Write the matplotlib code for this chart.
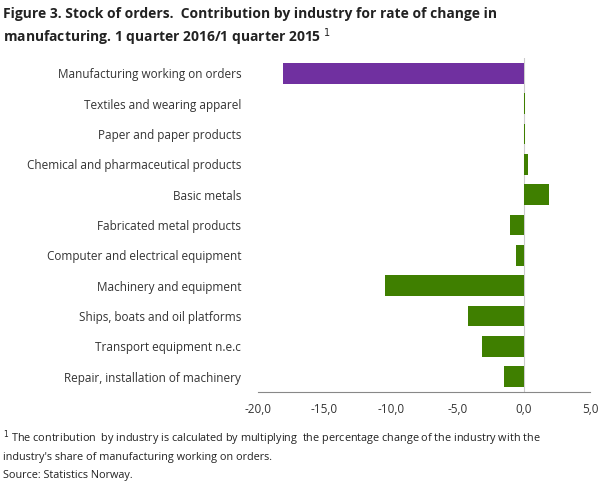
import matplotlib
matplotlib.use("Agg")
import matplotlib.pyplot as plt

categories = ["Manufacturing working on orders", "Textiles and wearing apparel", "Paper and paper products",
              "Chemical and pharmaceutical products", "Basic metals", "Fabricated metal products",
              "Computer and electrical equipment", "Machinery and equipment", "Ships, boats and oil platforms",
              "Transport equipment n.e.c", "Repair, installation of machinery"]
values = [-18.1, 0.1, 0.1, 0.3, 1.95, -1.0, -0.6, -10.4, -4.2, -3.1, -1.45]
colors = ["#7030a0"] + ["#3f7f00"] * 10
ticks = [-20, -15, -10, -5, 0, 5]
tick_labels = ["-20,0", "-15,0", "-10,0", "-5,0", "0,0", "5,0"]

plt.rcParams['font.family'] = ['Open Sans', 'DejaVu Sans']
fig = plt.figure(figsize=(6.09, 4.88), dpi=100)
ax = fig.add_axes([258/609, 1-392/488, 332/609, 334/488])
y = list(range(len(categories)))
ax.barh(y, values, color=colors, height=0.68)
ax.set_ylim(len(categories)-0.5, -0.5)
ax.set_xlim(-20, 5)
ax.set_xticks(ticks)
ax.set_xticklabels(tick_labels, fontsize=8.5, color="#333333")
ax.set_yticks(y)
ax.set_yticklabels(categories, fontsize=8.5, color="#333333")
ax.tick_params(axis="y", length=0, pad=12)
ax.tick_params(axis="x", length=0, pad=8)
for s in ["top", "right", "left"]:
    ax.spines[s].set_visible(False)
ax.spines["bottom"].set_color("#888888")
ax.axvline(0, color="#cccccc", lw=0.8, zorder=0)

fig.text(0.005, 0.985, "Figure 3. Stock of orders.  Contribution by industry for rate of change in\nmanufacturing. 1 quarter 2016/1 quarter 2015 $^1$",
         fontsize=10, fontweight="bold", va="top", ha="left", color="#222222", linespacing=1.3)
fig.text(0.005, 0.122, "$^1$ The contribution  by industry is calculated by multiplying  the percentage change of the industry with the\nindustry's share of manufacturing working on orders.",
         fontsize=7.8, va="top", ha="left", color="#222222", linespacing=1.45)
fig.text(0.005, 0.037, "Source: Statistics Norway.", fontsize=7.8, va="top", ha="left", color="#222222")
fig.savefig("out.png", dpi=100)
